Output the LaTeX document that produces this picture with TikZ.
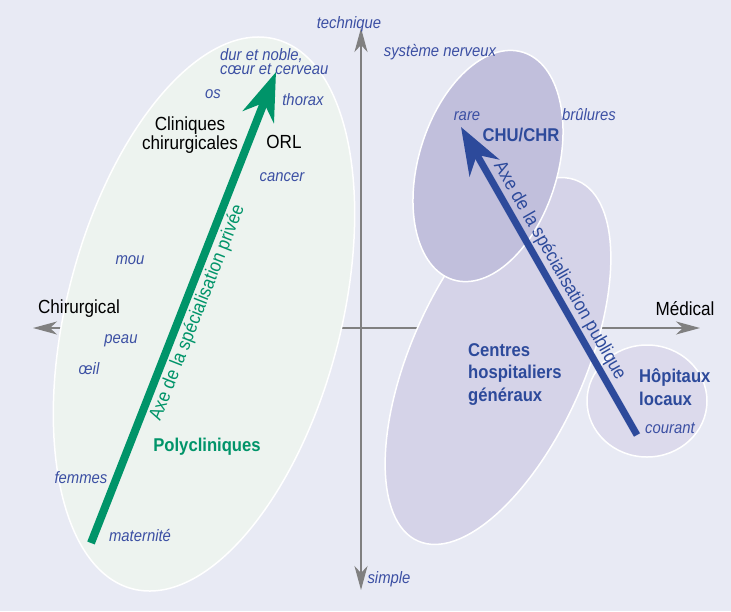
\documentclass[tikz,border=0pt]{standalone}
\usepackage{fontspec}
\setmainfont{Liberation Sans}[FakeStretch=0.9]
\usetikzlibrary{arrows.meta}
\definecolor{fond}{HTML}{E8EAF4}
\definecolor{vert}{HTML}{009469}
\definecolor{bleu}{HTML}{2D4A9B}
\definecolor{bleuclair}{HTML}{3B4FA3}
\definecolor{gris}{HTML}{808080}
\definecolor{zoneprivee}{HTML}{EDF3EF}
\definecolor{zonechu}{HTML}{C1BFDC}
\definecolor{zonech}{HTML}{D5D3E8}
\definecolor{zonehl}{HTML}{DCDAEC}
\begin{document}
\begin{tikzpicture}[
		x=1pt, y=-1pt,
		axe/.style={draw=gris, line width=1.6pt,
				{Stealth[length=24pt,width=13pt,inset=7pt]}-{Stealth[length=24pt,width=13pt,inset=7pt]}},
		zone/.style={draw=white, line width=1.5pt},
		lbl/.style={font=\fontsize{16.5}{14}\selectfont\itshape, text=bleuclair, inner sep=0pt, align=left},
		cat/.style={font=\fontsize{19}{19}\selectfont, inner sep=0pt, align=center},
		etab/.style={font=\fontsize{18.5}{22.5}\selectfont\bfseries, inner sep=0pt, align=left},
		axespe/.style={font=\fontsize{19}{19}\selectfont, inner sep=0pt, sloped}
	]
	\useasboundingbox[fill=fond] (0,0) rectangle (731,611);
	\coordinate (haut) at (361,28);
	\coordinate (bas) at (361,590);
	\coordinate (gauche) at (33,328);
	\coordinate (droite) at (700,328);
	\draw[axe] (bas) -- (haut);
	\draw[axe] (gauche) -- (droite);
	\draw[zone, fill=zoneprivee, rotate around={75.4:(204,314)}] (204,314) ellipse [x radius=284pt, y radius=137pt];
	\draw[zone, fill=zonech, rotate around={66:(498,361)}] (498,361) ellipse [x radius=197pt, y radius=87pt];
	\draw[zone, fill=zonechu, rotate around={73:(488,166)}] (488,166) ellipse [x radius=119pt, y radius=69.5pt];
	\draw[zone, fill=zonehl] (647,401) ellipse [x radius=60pt, y radius=56pt];
	\node[lbl] (technique) at (349,24) {technique};
	\node[lbl] (simple) at (389,579) {simple};
	\node[cat] (chir) at (79,309) {Chirurgical};
	\node[cat] (med) at (685,309) {Médical};
	\coordinate (vq) at (91,543);
	\coordinate (vt) at (276,72);
	\draw[vert, line width=8pt, -{Stealth[length=48pt,width=33pt,inset=15pt]}] (vq) -- (vt);
	\path (vq) -- (vt) node[axespe, pos=0.5, below=6pt, text=vert] (axepriv) {Axe de la spécialisation privée};
	\coordinate (bq) at (637,435);
	\coordinate (bt) at (461,127);
	\draw[bleu, line width=7pt, -{Stealth[length=47pt,width=34pt,inset=15pt]}] (bq) -- (bt);
	\path (bt) -- (bq) node[axespe, pos=0.49, above=5pt, text=bleu] (axepub) {Axe de la spécialisation publique};
	\node[lbl, anchor=west] (dur) at (220,62) {dur et noble,\\cœur et cerveau};
	\node[lbl] (os) at (213,94) {os};
	\node[lbl] (thorax) at (303,100) {thorax};
	\node[cat] (cliniq) at (190,135) {Cliniques\\chirurgicales};
	\node[cat] (orl) at (284,142) {ORL};
	\node[lbl] (cancer) at (282,177) {cancer};
	\node[lbl] (mou) at (130,260) {mou};
	\node[lbl] (peau) at (121,341) {peau};
	\node[lbl] (oeil) at (89,369) {œil};
	\node[etab, text=vert] (polycl) at (207,447) {Polycliniques};
	\node[lbl] (femmes) at (81,478) {femmes};
	\node[lbl] (maternite) at (140,535) {maternité};
	\node[lbl] (sysnerv) at (440,52) {système nerveux};
	\node[lbl] (rare) at (467,116) {rare};
	\node[etab, text=bleu] (chu) at (521,135) {CHU/CHR};
	\node[lbl] (brulures) at (589,115) {brûlures};
	\node[etab, text=bleu, anchor=west] (chg) at (468,374) {Centres\\hospitaliers\\généraux};
	\node[etab, text=bleu, anchor=west] (hl) at (639,387) {Hôpitaux\\locaux};
	\node[lbl] (courant) at (670,428) {courant};
\end{tikzpicture}
\end{document}
